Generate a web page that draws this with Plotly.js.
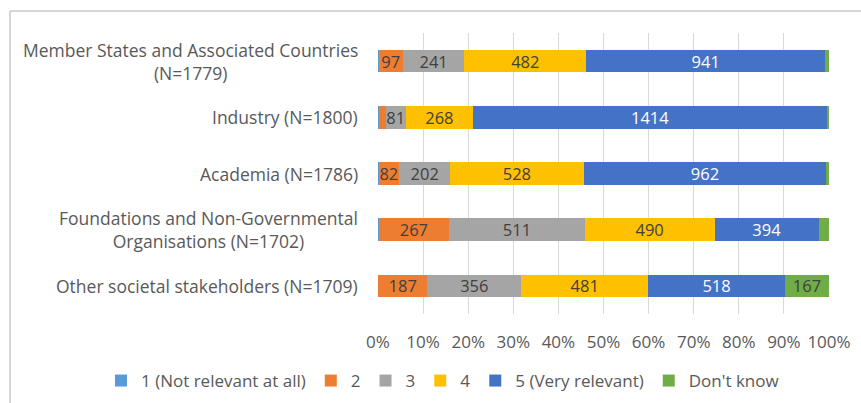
<!DOCTYPE html>
<html>
<head>
<meta charset="utf-8">
<script src="https://cdn.plot.ly/plotly-3.0.1.min.js"></script>
<style>html,body{margin:0;padding:0;background:#fff;}#chart{width:861px;height:403px;}</style>
</head>
<body>
<div id="chart"></div>
<script>
const categories = [
  "Member States and Associated Countries<br>(N=1779)",
  "Industry (N=1800)",
  "Academia (N=1786)",
  "Foundations and Non-Governmental<br>Organisations (N=1702)",
  "Other societal stakeholders (N=1709)"
];
const seriesNames = ["1 (Not relevant at all)", "2", "3", "4", "5 (Very relevant)", "Don't know"];
const s1 = [2, 3, 2, 2, 0];
const s2 = [97, 27, 82, 267, 187];
const s3 = [241, 81, 202, 511, 356];
const s4 = [482, 268, 528, 490, 481];
const s5 = [941, 1414, 962, 394, 518];
const sDK = [16, 7, 10, 38, 167];
const xTickVals = [0, 10, 20, 30, 40, 50, 60, 70, 80, 90, 100];
const xTickText = ["0%", "10%", "20%", "30%", "40%", "50%", "60%", "70%", "80%", "90%", "100%"];

const colors = ["#5B9BD5", "#ED7D31", "#A5A5A5", "#FFC000", "#4472C4", "#70AD47"];
const textColors = ["#404040", "#404040", "#404040", "#404040", "#ffffff", "#404040"];
const series = [s1, s2, s3, s4, s5, sDK];
const keys = categories.map((c, i) => "c" + i);
const FONT = "'Open Sans', sans-serif";

const traces = series.map((vals, k) => ({
  type: "bar",
  orientation: "h",
  name: seriesNames[k],
  y: keys,
  x: vals,
  text: vals.map(v => v >= 60 ? String(v) : ""),
  textposition: "inside",
  insidetextanchor: "middle",
  textangle: 0,
  constraintext: "none",
  textfont: {family: FONT, size: 16.5, color: textColors[k]},
  marker: {color: colors[k], line: {width: 0}},
  hoverinfo: "skip"
}));

const L = 378, R = 32, T = 33, B = 89, W = 861, H = 403;
const pw = W - L - R, ph = H - T - B;
const px = x => (x - L) / pw;
const py = y => 1 - (y - T) / ph;

const annotations = categories.map((c, i) => ({
  xref: "paper", yref: "y",
  x: px(360), y: keys[i],
  xanchor: "right", yanchor: "middle",
  align: "center",
  text: c,
  showarrow: false,
  font: {family: FONT, size: 17.5, color: "#595959"}
}));

const layout = {
  width: W, height: H,
  margin: {l: L, r: R, t: T, b: B, autoexpand: false},
  paper_bgcolor: "#ffffff",
  plot_bgcolor: "#ffffff",
  barmode: "stack",
  barnorm: "percent",
  bargap: 0.6,
  showlegend: true,
  legend: {
    orientation: "h",
    xref: "paper", yref: "paper",
    x: px(101), xanchor: "left",
    y: py(381), yanchor: "middle",
    traceorder: "normal",
    font: {family: FONT, size: 17, color: "#595959"},
    itemwidth: 30
  },
  xaxis: {
    range: [0, 100],
    tickvals: xTickVals,
    ticktext: xTickText,
    showgrid: true,
    gridcolor: "#d9d9d9",
    gridwidth: 1,
    zeroline: false,
    showline: false,
    ticks: "",
    ticklabelstandoff: 16,
    tickfont: {family: FONT, size: 17, color: "#595959"},
    fixedrange: true
  },
  yaxis: {
    autorange: "reversed",
    showticklabels: false,
    showgrid: false,
    zeroline: false,
    showline: false,
    ticks: "",
    fixedrange: true
  },
  annotations: annotations,
  shapes: [
    {type: "line", xref: "paper", yref: "paper", x0: px(10), x1: px(861), y0: py(11), y1: py(11), line: {color: "#c8c8c8", width: 1.5}},
    {type: "line", xref: "paper", yref: "paper", x0: px(10), x1: px(10), y0: py(11), y1: py(403), line: {color: "#c8c8c8", width: 1.5}}
  ]
};

Plotly.newPlot("chart", traces, layout, {displayModeBar: false, staticPlot: true});
</script>
</body>
</html>
